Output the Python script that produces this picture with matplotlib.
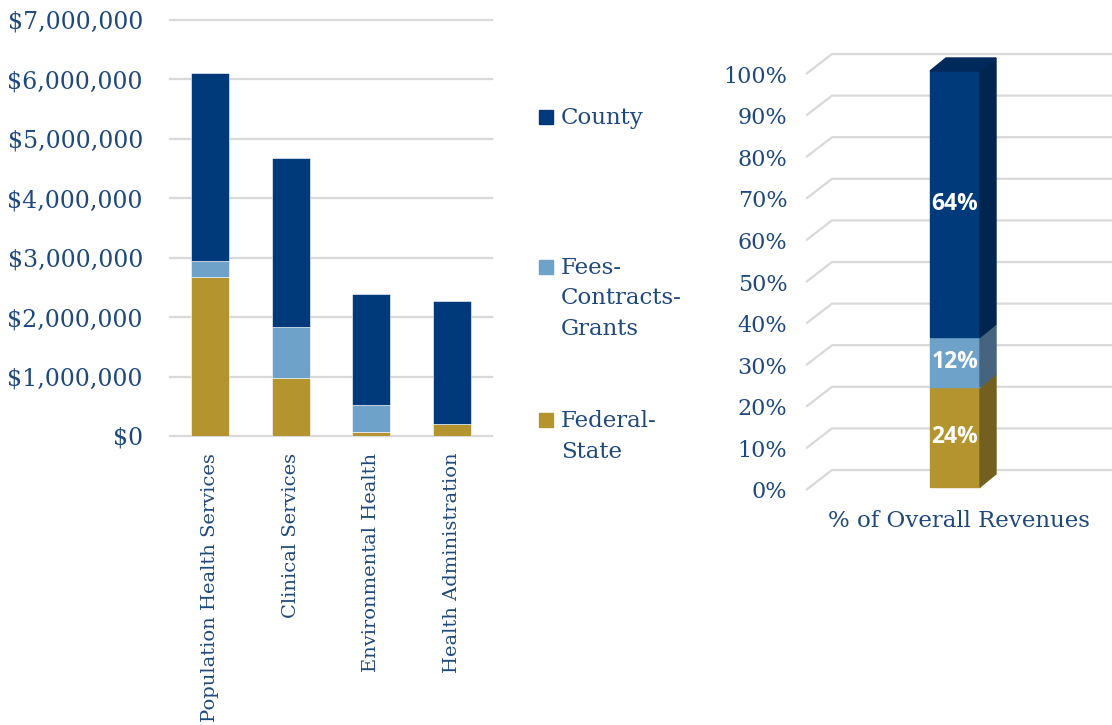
import numpy as np
import matplotlib.pyplot as plt
from matplotlib.patches import Rectangle, Polygon
from matplotlib import transforms
from matplotlib.ticker import FuncFormatter

# data
categories = ["Population Health Services", "Clinical Services",
              "Environmental Health", "Health Administration"]
federal_state = [2.67e6, 0.98e6, 0.06e6, 0.21e6]
fees_contracts = [0.27e6, 0.85e6, 0.47e6, 0.0]
county = [3.17e6, 2.85e6, 1.86e6, 2.07e6]

share_names = ["Federal-State", "Fees-Contracts-Grants", "County"]
share_pct = [24, 12, 64]

series_labels = ["County", "Fees-\nContracts-\nGrants", "Federal-\nState"]

# colours
C_COUNTY = "#003A7A"
C_FEES = "#6FA2C9"
C_FED = "#B3942F"
SIDE = {C_COUNTY: "#00264F", C_FEES: "#46637F", C_FED: "#736020"}
TOP_COUNTY = "#002A5A"
TXT = "#1F497D"
GRID = "#D9D9D9"
SERIF = "DejaVu Serif"

W, H = 1112, 725
fig = plt.figure(figsize=(W / 100, H / 100), dpi=100)


def px_axes(x0, y0, x1, y1):
    return fig.add_axes([x0 / W, 1 - y1 / H, (x1 - x0) / W, (y1 - y0) / H])


# ---- left: stacked bars by division
ax = px_axes(170, 20, 492, 436)
x = np.arange(len(categories))
bw = 0.475
b1 = np.array(federal_state)
b2 = b1 + np.array(fees_contracts)
ax.bar(x, federal_state, bw, color=C_FED, edgecolor="white", linewidth=0.4, zorder=3)
ax.bar(x, fees_contracts, bw, bottom=b1, color=C_FEES, edgecolor="white", linewidth=0.4, zorder=3)
ax.bar(x, county, bw, bottom=b2, color=C_COUNTY, edgecolor="white", linewidth=0.4, zorder=3)
ax.set_xlim(-0.5, 3.5)
ax.set_ylim(0, 7e6)
ax.set_yticks(np.arange(0, 7.01e6, 1e6))
ax.yaxis.set_major_formatter(FuncFormatter(lambda v, p: "${:,.0f}".format(v)))
ax.yaxis.grid(True, color=GRID, linewidth=1.6)
for g in ax.get_ygridlines():
    g.set_clip_on(False)
ax.set_axisbelow(True)
for s in ax.spines.values():
    s.set_visible(False)
ax.tick_params(length=0)
ax.tick_params(axis="y", pad=19.5, labelsize=17, labelcolor=TXT)
ax.set_xticks(x)
ax.set_xticklabels(categories, rotation=90, va="top", ha="center",
                   fontsize=14, color=TXT, family=SERIF)
ax.tick_params(axis="x", pad=12)
for t in ax.get_yticklabels():
    t.set_family(SERIF)

# legend drawn by hand so the key sits on the first line of each label
leg_colors = [C_COUNTY, C_FEES, C_FED]
leg_y = [117, 267, 420]
for lab, col, yy in zip(series_labels, leg_colors, leg_y):
    fig.patches.append(Rectangle(((539) / W, 1 - (yy + 7) / H), 14 / W, 14 / H,
                                 transform=fig.transFigure, color=col))
    fig.text(561 / W, 1 - (yy - 10) / H, lab, ha="left", va="top", fontsize=16.5,
             color=TXT, family=SERIF, linespacing=1.5)

# ---- right: pseudo-3D share of overall revenues
PX_PER_PCT = 4.16
axr = px_axes(806, 40, 1112, 500)
axr.set_xlim(0, 306)
axr.set_ylim(-10 / PX_PER_PCT, (490 - 40) / PX_PER_PCT)
for s in axr.spines.values():
    s.set_visible(False)
axr.set_xticks([])
ticks = np.arange(0, 101, 10)
axr.set_yticks(ticks)
axr.set_yticklabels([f"{t}%" for t in ticks], fontsize=16, color=TXT, family=SERIF)
axr.tick_params(axis="y", length=0, pad=13.5)

gdx, gdy = 26, 20 / PX_PER_PCT
for t in ticks:
    axr.plot([0, gdx, 306], [t, t + gdy, t + gdy], color=GRID, lw=1.6,
             zorder=1, solid_capstyle="butt")

bx, bwid = 124, 50
off = 3 / PX_PER_PCT
sdx, sdy = 16, 13 / PX_PER_PCT
cols = [C_FED, C_FEES, C_COUNTY]
lo = 0
for name, p, col in zip(share_names, share_pct, cols):
    hi = lo + p
    axr.add_patch(Rectangle((bx, lo + off), bwid, p, color=col, zorder=3))
    axr.add_patch(Polygon([(bx + bwid, lo + off), (bx + bwid + sdx, lo + off + sdy),
                           (bx + bwid + sdx, hi + off + sdy), (bx + bwid, hi + off)],
                          closed=True, color=SIDE[col], zorder=3))
    axr.text(bx + bwid / 2, (lo + hi) / 2 + off, f"{p}%", ha="center", va="center",
             color="white", fontsize=16.5, fontweight="bold", family="Open Sans", zorder=4)
    lo = hi
axr.add_patch(Polygon([(bx, lo + off), (bx + bwid, lo + off),
                       (bx + bwid + sdx, lo + off + sdy), (bx + sdx, lo + off + sdy)],
                      closed=True, color=TOP_COUNTY, zorder=3))

tr = transforms.blended_transform_factory(axr.transData, axr.transAxes)
axr.text(bx + bwid / 2 + 4, -21 / 460, "% of Overall Revenues", transform=tr,
         ha="center", va="center", fontsize=16.5, color=TXT, family=SERIF)

fig.savefig("out.png", dpi=100)
